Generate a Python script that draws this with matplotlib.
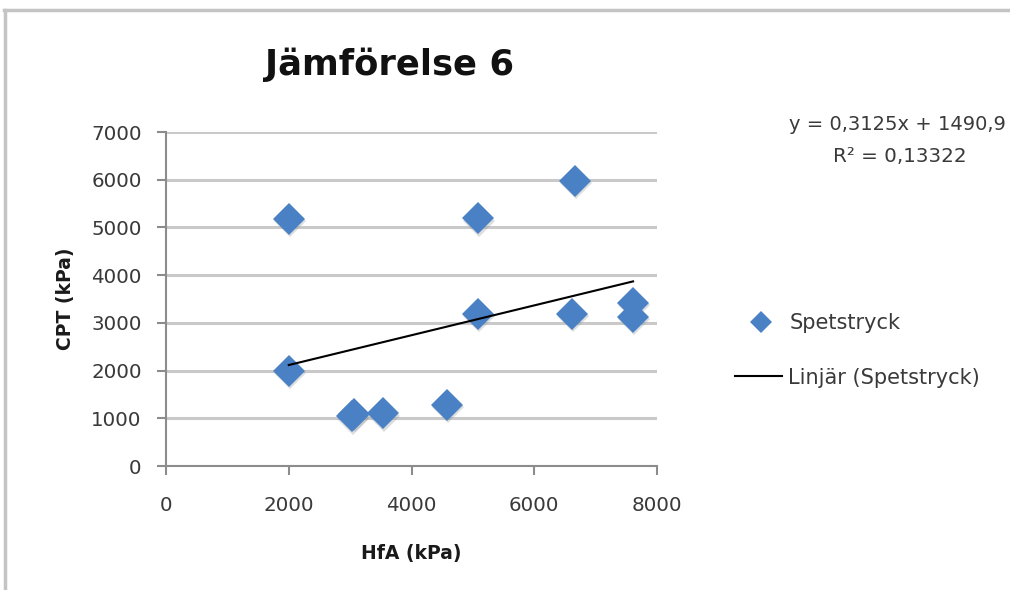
import matplotlib
matplotlib.use("Agg")
import matplotlib.pyplot as plt
from matplotlib.lines import Line2D
from matplotlib.transforms import ScaledTranslation
import numpy as np

plt.rcParams['font.family'] = ['DejaVu Sans']

# Measured values: HfA vs CPT (kPa)
hfa = [2000, 2000, 3030, 3070, 3530, 4580, 5090, 5090, 6660, 6610, 7610, 7610]
cpt = [5180, 2000, 1040, 1100, 1105, 1280, 5190, 3190, 5980, 3190, 3420, 3130]

# Linear trend (from the stated equation)
slope = 0.3125
intercept = 1490.9
r2_text = "0,13322"

title = "Jämförelse 6"
xlabel = "HfA (kPa)"
ylabel = "CPT (kPa)"
series_name = "Spetstryck"
trend_name = "Linjär (Spetstryck)"
x_ticks = [0, 2000, 4000, 6000, 8000]
y_ticks = [0, 1000, 2000, 3000, 4000, 5000, 6000, 7000]

blue = "#4a80c4"
grid_col = "#c9c9c9"
axis_col = "#8c8c8c"
text_col = "#3a3a3a"

W, H = 1010, 590
fig = plt.figure(figsize=(W / 100, H / 100), dpi=100)
fig.patch.set_facecolor("white")


def fx(px):
    return px / W


def fy(py):
    return 1 - py / H


# Outer chart frame (top and left edges)
fig.add_artist(Line2D([fx(4), 1.0], [fy(10), fy(10)], transform=fig.transFigure,
                      color="#c4c4c4", lw=2.5))
fig.add_artist(Line2D([fx(5), fx(5)], [0.0, fy(10)], transform=fig.transFigure,
                      color="#c4c4c4", lw=2.5))

ax = fig.add_axes([fx(166), fy(466), (657 - 166) / W, (466 - 132) / H])
ax.set_xlim(0, 8000)
ax.set_ylim(0, 7000)
ax.set_xticks(x_ticks)
ax.set_yticks(y_ticks)
ax.tick_params(axis="both", labelsize=14.3, colors=axis_col, labelcolor=text_col,
               length=6.5, width=1.5, direction="out")
ax.tick_params(axis="y", pad=11)
ax.tick_params(axis="x", pad=15)

for s in ["top", "right"]:
    ax.spines[s].set_visible(False)
for s in ["left", "bottom"]:
    ax.spines[s].set_color(axis_col)
    ax.spines[s].set_linewidth(1.5)

ax.yaxis.grid(True, color=grid_col, lw=2.2)
ax.set_axisbelow(True)

# Soft shadow under the markers
shadow = ax.transData + ScaledTranslation(1 / 100, -2.5 / 100, fig.dpi_scale_trans)
ax.plot(hfa, cpt, linestyle="none", marker="D", markersize=16.5, color="#8a8f96", alpha=0.3,
        markeredgewidth=0, transform=shadow, clip_on=False)
ax.plot(hfa, cpt, linestyle="none", marker="D", markersize=16.5, color=blue,
        markeredgewidth=0, clip_on=False, zorder=3)

xs = np.array([min(hfa), max(hfa)])
ax.plot(xs, slope * xs + intercept, color="black", lw=1.5, zorder=4)

ax.set_xlabel(xlabel, fontsize=13.5, fontweight="bold", color="#1a1a1a", va="center")
ax.set_ylabel(ylabel, fontsize=13.5, fontweight="bold", color="#1a1a1a", va="center")
ax.xaxis.set_label_coords(0.5, (466 - 553) / (466 - 132))
ax.yaxis.set_label_coords((66 - 166) / (657 - 166), 0.5)

fig.text(fx(390), fy(65), title, fontsize=25.5, fontweight="bold",
         ha="center", va="center", color="#111111")

# Trend equation
fig.text(fx(789), fy(124), "y = 0,3125x + 1490,9", fontsize=14, ha="left",
         va="center", color=text_col)
fig.text(fx(900), fy(157), "R² = " + r2_text, fontsize=14.3, ha="center",
         va="center", color=text_col)

# Legend
fig.add_artist(Line2D([fx(761)], [fy(322)], transform=fig.transFigure, marker="D",
                      markersize=11, color=blue, markeredgewidth=0, linestyle="none"))
fig.text(fx(790), fy(323), series_name, fontsize=15, ha="left", va="center",
         color=text_col)
fig.add_artist(Line2D([fx(735), fx(782)], [fy(376), fy(376)],
                      transform=fig.transFigure, color="black", lw=1.5))
fig.text(fx(788), fy(378), trend_name, fontsize=15, ha="left", va="center",
         color=text_col)

fig.savefig("out.png", dpi=100, facecolor="white")
